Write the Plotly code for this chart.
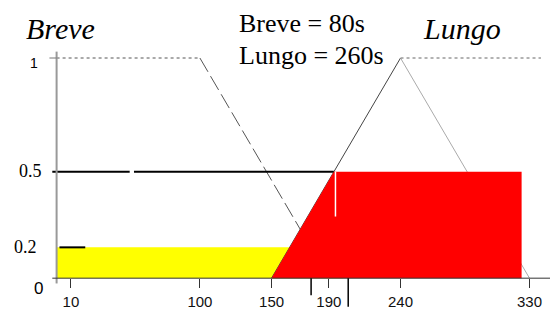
import plotly.graph_objects as go

# ---------------- data ----------------
x_ticks = [10, 100, 150, 190, 240, 330]
x_tick_labels = ["10", "100", "150", "190", "240", "330"]
y_tick_pos = [0, 0.14, 0.483, 1.0]          # where the labels sit in the picture
y_tick_labels = ["0", "0.2", "0.5", "1"]

breve_x = [0, 100, 190]                      # Breve membership (trapezoid)
breve_y = [1, 1, 0]
lungo_x = [150, 240, 330]                    # Lungo membership (triangle)
lungo_y = [0, 1, 0]
lungo_top_x = [240, 338]                     # dotted shoulder of Lungo
lungo_top_y = [1, 1]

cut_breve = y_tick_pos[1]                    # alpha cut 0.2
cut_lungo = y_tick_pos[2]                    # alpha cut 0.5
yellow_x = [0, 0, 200, 200]
yellow_y = [0, cut_breve, cut_breve, 0]
red_x = [150, 193.5, 324.5, 324.5]
red_y = [0, cut_lungo, cut_lungo, 0]

extra_marks_x = [177.6, 203.5]
extra_marks_depth = [-0.077, -0.13]

title_left = "Breve"
title_right = "Lungo"
info_lines = ["Breve = 80s", "Lungo = 260s"]

# ---------------- layout geometry ----------------
OFF = 8                        # page body margin
W, H = 558 - OFF, 312 - OFF
ML, MR, MT, MB = 48 - OFF, 2, 47 - OFF, 3
PW, PH = W - ML - MR, H - MT - MB

def paper_x(p):
    return (p - OFF - ML) / PW

def paper_y(p):
    return (H - MB - (p - OFF)) / PH

fig = go.Figure()

def line(xs, ys, color, width=1, dash="solid"):
    fig.add_trace(go.Scatter(x=xs, y=ys, mode="lines",
                             line=dict(color=color, width=width, dash=dash),
                             hoverinfo="skip", showlegend=False))

# filled areas
fig.add_trace(go.Scatter(x=yellow_x + [yellow_x[0]], y=yellow_y + [yellow_y[0]],
                         fill="toself", fillcolor="#ffff00", mode="none",
                         hoverinfo="skip", showlegend=False))

# membership lines
line(breve_x[:2], breve_y[:2], "#555555", 1, "dot")
line(breve_x[1:], breve_y[1:], "#555555", 1, "16px,5px")
line(lungo_x[:2], lungo_y[:2], "#444444", 1)
line(lungo_x[1:], lungo_y[1:], "#aaaaaa", 1)
line(lungo_top_x, lungo_top_y, "#666666", 1, "dot")

# black cut lines
line([-3, 51], [cut_lungo, cut_lungo], "#000000", 2)
line([54, lungo_x[0] + cut_lungo * (lungo_x[1] - lungo_x[0])], [cut_lungo, cut_lungo], "#000000", 2)

fig.add_trace(go.Scatter(x=red_x + [red_x[0]], y=red_y + [red_y[0]],
                         fill="toself", fillcolor="#ff0000", mode="none",
                         hoverinfo="skip", showlegend=False))
line([2, 20], [cut_breve, cut_breve], "#000000", 2)
line([194.6, 194.6], [cut_lungo, 0.28], "#ffffff", 1.5)

# axes drawn as lines
line([0, 0], [-0.024, 1.029], "#999999", 2)
line([-5, 0], [1, 1], "#777777", 1)
line([-3, 348], [0, 0], "#333333", 1)
for xm, d in zip(extra_marks_x, extra_marks_depth):
    line([xm, xm], [0, d], "#000000", 1.5)

# annotations (placed in paper coordinates from pixel positions)
ann = []
sans = "Liberation Sans, Arial, sans-serif"
serif = "Liberation Serif, Times New Roman, serif"
ann.append(dict(x=paper_x(34), y=paper_y(63), text=y_tick_labels[3], font=dict(family=sans, size=14, color="#000")))
ann.append(dict(x=paper_x(30), y=paper_y(171), text=y_tick_labels[2], font=dict(family=serif, size=18, color="#000")))
ann.append(dict(x=paper_x(25), y=paper_y(247), text=y_tick_labels[1], font=dict(family=serif, size=18, color="#000")))
ann.append(dict(x=paper_x(38), y=paper_y(288), text=y_tick_labels[0], font=dict(family=sans, size=17, color="#000")))
ann.append(dict(x=paper_x(60), y=paper_y(28), text="<i>%s</i>" % title_left, font=dict(family=serif, size=30, color="#000")))
ann.append(dict(x=paper_x(462), y=paper_y(28), text="<i>%s</i>" % title_right, font=dict(family=serif, size=30, color="#000")))
ann.append(dict(x=paper_x(237), y=paper_y(23), text=info_lines[0], xanchor="left", font=dict(family=serif, size=26, color="#000")))
ann.append(dict(x=paper_x(237), y=paper_y(55), text=info_lines[1], xanchor="left", font=dict(family=serif, size=26, color="#000")))
for a in ann:
    a.setdefault("xanchor", "center")
    a.update(xref="paper", yref="paper", yanchor="middle", showarrow=False)

y_lo, y_hi = -0.14, 1.05
fig.update_layout(
    width=W, height=H,
    margin=dict(l=ML, r=MR, t=MT, b=MB, autoexpand=False),
    paper_bgcolor="white", plot_bgcolor="white",
    annotations=ann,
    xaxis=dict(range=[-6, 348.5], tickvals=x_ticks, ticktext=x_tick_labels,
               ticks="outside", ticklen=9, tickcolor="#333333", tickwidth=1,
               ticklabelstandoff=1,
               showline=False, showgrid=False, zeroline=False, automargin=False,
               anchor="free", position=(0 - y_lo) / (y_hi - y_lo),
               tickfont=dict(family=sans, size=15, color="#111")),
    yaxis=dict(range=[y_lo, y_hi], visible=False, automargin=False),
)

fig.write_html("out.html")
